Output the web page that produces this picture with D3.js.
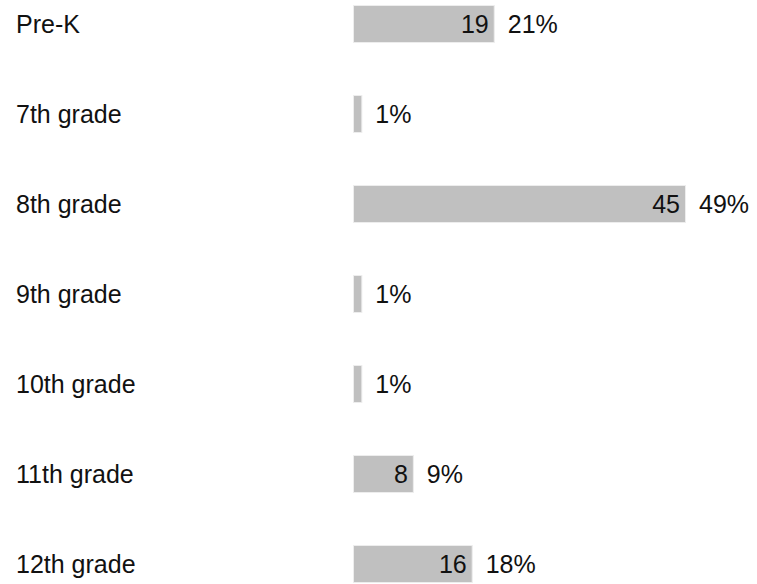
<!DOCTYPE html>
<html>
<head>
<meta charset="utf-8">
<script src="https://cdn.jsdelivr.net/npm/d3@7"></script>
<style>
  html, body { margin: 0; padding: 0; background: #fff; }
  text { font-family: "Liberation Sans", Arial, Helvetica, sans-serif; }
</style>
</head>
<body>
<svg id="chart" width="757" height="584"></svg>
<script>
const categories = ["Pre-K", "7th grade", "8th grade", "9th grade", "10th grade", "11th grade", "12th grade"];
const counts = [19, 1, 45, 1, 1, 8, 16];

const barLeft = 354, barRight = 685;
const total = d3.sum(counts);
const fontSize = 25;

const svg = d3.select("#chart");

const y = d3.scalePoint()
  .domain(categories)
  .range([24, 564]);

const x = d3.scaleLinear()
  .domain([0, d3.max(counts)])
  .range([barLeft, barRight]);

const data = categories.map((c, i) => ({ cat: c, v: counts[i] }));
const barH = 37;

const rows = svg.append("g").selectAll("g.row").data(data).enter().append("g")
  .attr("class", "row")
  .attr("transform", d => `translate(0, ${y(d.cat)})`);

rows.append("text")
  .attr("x", 16)
  .attr("dy", "0.35em")
  .attr("font-size", fontSize)
  .attr("fill", "#111")
  .text(d => d.cat);

rows.append("rect")
  .attr("x", barLeft - 0.5)
  .attr("y", -barH / 2)
  .attr("width", d => x(d.v) - barLeft + 1)
  .attr("height", barH)
  .attr("fill", "#c0c0c0")
  .attr("stroke", "#ededed")
  .attr("stroke-width", 1);

rows.filter(d => x(d.v) - barLeft > 40).append("text")
  .attr("x", d => x(d.v) - 5)
  .attr("dy", "0.35em")
  .attr("text-anchor", "end")
  .attr("font-size", fontSize)
  .attr("fill", "#111")
  .text(d => d.v);

rows.append("text")
  .attr("x", d => x(d.v) + 14)
  .attr("dy", "0.35em")
  .attr("font-size", fontSize)
  .attr("fill", "#111")
  .text(d => Math.round(d.v / total * 100) + "%");
</script>
</body>
</html>
